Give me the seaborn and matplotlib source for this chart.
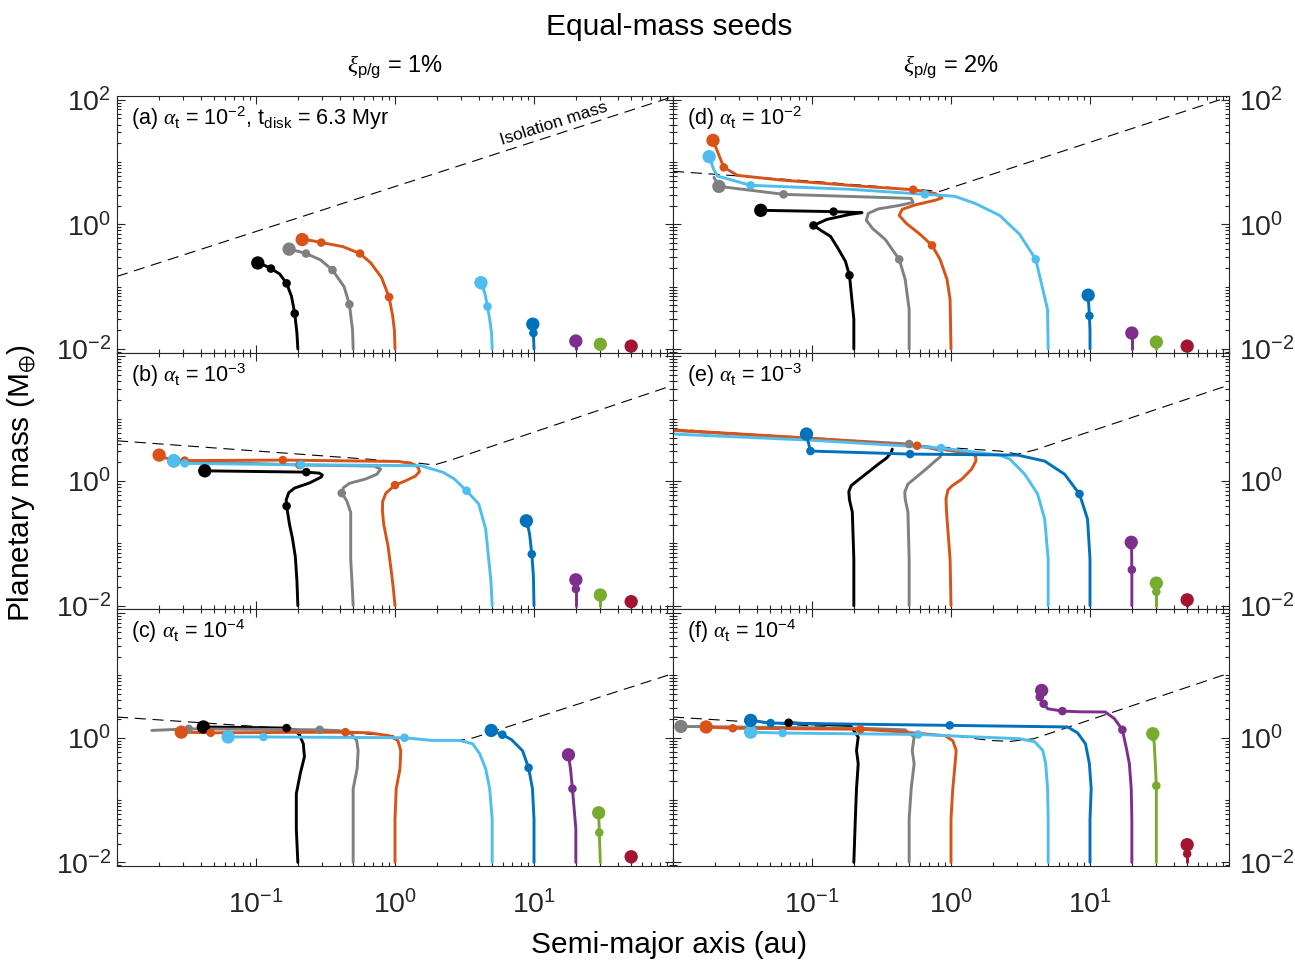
import matplotlib
matplotlib.use("Agg")
import numpy as np
import pandas as pd
import matplotlib.pyplot as plt
import seaborn as sns
from matplotlib.ticker import FixedLocator, FixedFormatter, LogLocator, NullFormatter

# ---------------------------------------------------------------------------
# Seeds (initial semi-major axis, au) and their colours
seeds = [0.2, 0.5, 1, 5, 10, 20, 30, 50]
seed_colors = ["#000000", "#808080", "#D95319", "#4DBEEE",
               "#0072BD", "#7E2F8E", "#77AC30", "#A2142F"]

# ---------------------------------------------------------------------------
# (a) xi = 1 %, alpha_t = 1e-2
a_pa = {
    0.2: [0.2, 0.197, 0.19, 0.18, 0.166, 0.148, 0.128, 0.115, 0.103],
    0.5: [0.5, 0.495, 0.47, 0.43, 0.355, 0.29, 0.229, 0.2, 0.173],
    1:   [1.0, 0.99, 0.96, 0.906, 0.8, 0.67, 0.56, 0.42, 0.295, 0.25, 0.215],
    5:   [5.0, 4.95, 4.8, 4.63, 4.45, 4.25, 4.15],
    10:  [10, 9.9, 9.8],
    20:  [20, 20],
    30:  [30, 30],
    50:  [50, 50],
}
m_pa = {
    0.2: [0.01, 0.018, 0.037, 0.07, 0.113, 0.16, 0.195, 0.22, 0.24],
    0.5: [0.01, 0.02, 0.052, 0.1, 0.185, 0.27, 0.34, 0.37, 0.40],
    1:   [0.01, 0.02, 0.035, 0.068, 0.14, 0.24, 0.34, 0.44, 0.51, 0.55, 0.57],
    5:   [0.01, 0.018, 0.03, 0.048, 0.075, 0.105, 0.116],
    10:  [0.01, 0.018, 0.025],
    20:  [0.01, 0.0134],
    30:  [0.01, 0.0119],
    50:  [0.01, 0.0111],
}
dots_pa = {0.2: ([2, 4, 6], 8), 0.5: ([2, 4, 6], 8), 1: ([3, 6, 8], 10),
           5: ([3, 5], 6), 10: ([1], 2), 20: ([], 1), 30: ([], 1), 50: ([], 1)}
iso_a_pa = [0.01, 100]
iso_m_pa = [0.146, 112]

# (b) xi = 1 %, alpha_t = 1e-3
a_pb = {
    0.2: [0.2, 0.197, 0.192, 0.183, 0.174, 0.166, 0.165, 0.172, 0.189, 0.242,
          0.295, 0.3, 0.285, 0.23, 0.0428],
    0.5: [0.5, 0.49, 0.48, 0.48, 0.45, 0.414, 0.425, 0.47, 0.616, 0.743,
          0.787, 0.707, 0.205, 0.0256],
    1:   [1.0, 0.97, 0.936, 0.89, 0.83, 0.812, 0.815, 0.86, 1.0, 1.18, 1.4,
          1.5, 1.47, 1.36, 1.07, 0.156, 0.0307, 0.0221, 0.0201],
    5:   [5.0, 4.9, 4.72, 4.49, 4.0, 3.27, 2.67, 2.22, 1.54, 0.211, 0.0307,
          0.0256],
    10:  [10, 9.9, 9.64, 9.3, 8.95, 8.81],
    20:  [20, 20, 20],
    30:  [30, 30],
    50:  [50, 50],
}
m_pb = {
    0.2: [0.01, 0.025, 0.06, 0.12, 0.204, 0.397, 0.5, 0.65, 0.77, 0.93,
          1.16, 1.25, 1.34, 1.39, 1.46],
    0.5: [0.01, 0.025, 0.056, 0.315, 0.48, 0.64, 0.78, 0.92, 1.08, 1.29,
          1.56, 1.74, 1.81, 2.1],
    1:   [0.01, 0.02, 0.0387, 0.0915, 0.2, 0.33, 0.47, 0.64, 0.86, 1.0, 1.2,
          1.42, 1.65, 1.87, 2.06, 2.17, 2.13, 2.34, 2.61],
    5:   [0.01, 0.025, 0.056, 0.17, 0.43, 0.7, 1.08, 1.38, 1.76, 1.83, 1.92,
          2.12],
    10:  [0.01, 0.03, 0.067, 0.14, 0.21, 0.23],
    20:  [0.01, 0.0185, 0.026],
    30:  [0.01, 0.0148],
    50:  [0.01, 0.0116],
}
dots_pb = {0.2: ([5, 13], 14), 0.5: ([5, 12], 13), 1: ([8, 15, 16], 18),
           5: ([5, 9, 10], 11), 10: ([2, 4], 5), 20: ([1], 2), 30: ([], 1),
           50: ([], 1)}
iso_a_pb = [0.01, 1.37, 1.91, 2.52, 98]
iso_m_pb = [4.43, 1.98, 1.81, 2.17, 33.9]

# (c) xi = 1 %, alpha_t = 1e-4
a_pc = {
    0.2: [0.2, 0.195, 0.195, 0.208, 0.223, 0.219, 0.205, 0.189, 0.166, 0.0418],
    0.5: [0.5, 0.5, 0.5, 0.534, 0.543, 0.53, 0.484, 0.397, 0.287, 0.0328,
          0.0178],
    1:   [1.0, 1.0, 1.02, 1.086, 1.1, 1.05, 0.906, 0.65, 0.44, 0.0472, 0.029],
    5:   [5.0, 5.0, 4.8, 4.49, 4.07, 3.62, 2.92, 1.84, 1.17, 0.113, 0.063],
    10:  [10, 10, 9.75, 9.14, 8.27, 6.9, 5.92, 4.92],
    20:  [20, 20, 18.9, 18.3, 17.7],
    30:  [30, 29.5, 29.2],
    50:  [50, 50],
}
m_pc = {
    0.2: [0.01, 0.0346, 0.126, 0.264, 0.495, 0.8, 1.12, 1.34, 1.43, 1.49],
    0.5: [0.01, 0.05, 0.152, 0.318, 0.62, 0.9, 1.16, 1.3, 1.34, 1.39, 1.31],
    1:   [0.01, 0.05, 0.152, 0.318, 0.62, 0.9, 1.08, 1.2, 1.23, 1.2, 1.23],
    5:   [0.01, 0.05, 0.152, 0.318, 0.553, 0.8, 0.906, 0.906, 1.0, 1.03, 1.03],
    10:  [0.01, 0.05, 0.152, 0.33, 0.62, 0.93, 1.12, 1.31],
    20:  [0.01, 0.0346, 0.152, 0.318, 0.533],
    30:  [0.01, 0.03, 0.0625],
    50:  [0.01, 0.0123],
}
dots_pc = {0.2: ([8], 9), 0.5: ([8, 9], None), 1: ([8, 9], 10),
           5: ([8, 9], 10), 10: ([3, 6], 7), 20: ([2], 4), 30: ([1], 2),
           50: ([], 1)}
iso_a_pc = [0.01, 0.89, 1.84, 2.92, 3.68, 98.4]
iso_m_pc = [2.15, 1.09, 0.906, 0.906, 1.0, 10.6]

# (d) xi = 2 %, alpha_t = 1e-2
a_pd = {
    0.2: [0.2, 0.2, 0.186, 0.174, 0.155, 0.136, 0.119, 0.1025, 0.128, 0.189,
          0.229, 0.143, 0.0428],
    0.5: [0.5, 0.5, 0.468, 0.424, 0.336, 0.272, 0.246, 0.254, 0.3, 0.43,
          0.534, 0.517, 0.0625, 0.0214, 0.0197],
    1:   [1.0, 0.985, 0.936, 0.834, 0.73, 0.6, 0.476, 0.424, 0.445, 0.552,
          0.767, 0.862, 0.767, 0.534, 0.223, 0.0594, 0.0291, 0.0232, 0.0194],
    5:   [5.0, 4.95, 4.07, 3.12, 2.24, 1.49, 1.07, 0.876, 0.65, 0.189, 0.0362,
          0.0209, 0.0196, 0.0182],
    10:  [10, 10, 9.9, 9.75, 9.7],
    20:  [20, 20, 20],
    30:  [30, 30],
    50:  [50, 50],
}
m_pd = {
    0.2: [0.01, 0.03, 0.152, 0.255, 0.4, 0.64, 0.77, 0.96, 1.2, 1.45, 1.54,
          1.6, 1.68],
    0.5: [0.01, 0.043, 0.131, 0.274, 0.574, 0.863, 1.16, 1.5, 1.77, 2.02,
          2.25, 2.61, 3.03, 4.07, 5.68],
    1:   [0.01, 0.0625, 0.131, 0.274, 0.46, 0.69, 1.04, 1.39, 1.74, 2.05,
          2.43, 2.66, 3.14, 3.6, 4.1, 5.15, 6.11, 8.22, 22.3],
    5:   [0.01, 0.043, 0.274, 0.69, 1.39, 2.17, 2.81, 2.92, 3.03, 3.65, 4.23,
          5.96, 7.64, 12.2],
    10:  [0.01, 0.02, 0.034, 0.06, 0.073],
    20:  [0.01, 0.013, 0.018],
    30:  [0.01, 0.0129],
    50:  [0.01, 0.0111],
}
dots_pd = {0.2: ([2, 7, 11], 12), 0.5: ([3, 12], 13), 1: ([4, 13, 17], 18),
           5: ([2, 8, 10], 13), 10: ([2], 4), 20: ([], 2), 30: ([], 1),
           50: ([], 1)}
iso_a_pd = [0.01, 0.0827, 0.834, 97]
iso_m_pd = [7.1, 5.08, 3.39, 109]

# (e) xi = 2 %, alpha_t = 1e-3
a_pe = {
    0.2: [0.2, 0.2, 0.195, 0.186, 0.184, 0.192, 0.215, 0.26, 0.3, 0.345,
          0.372, 0.378],
    0.5: [0.5, 0.5, 0.49, 0.468, 0.465, 0.49, 0.543, 0.662, 0.77, 0.834,
          0.862, 0.85, 0.5, 0.0944, 0.01],
    1:   [1.0, 0.985, 0.93, 0.92, 0.95, 1.02, 1.2, 1.41, 1.51, 1.51, 1.46,
          0.57, 0.0944, 0.01],
    5:   [5.0, 5.0, 4.72, 4.2, 3.39, 2.65, 2.24, 0.848, 0.094, 0.01],
    10:  [10, 10, 9.6, 8.4, 6.56, 4.72, 3.02, 0.508, 0.0975, 0.0929, 0.0913],
    20:  [20, 20, 20, 19.9, 19.8],
    30:  [30, 30, 30],
    50:  [50, 50],
}
m_pe = {
    0.2: [0.01, 0.056, 0.318, 0.5, 0.68, 0.85, 1.04, 1.45, 1.87, 2.35, 2.9,
          3.26],
    0.5: [0.01, 0.056, 0.318, 0.514, 0.666, 0.895, 1.08, 1.56, 2.1, 2.43,
          2.8, 3.1, 3.93, 4.85, 6.5],
    1:   [0.01, 0.056, 0.3, 0.514, 0.72, 0.84, 1.08, 1.56, 2.1, 2.4, 2.71,
          3.69, 4.9, 6.59],
    5:   [0.01, 0.056, 0.245, 0.62, 1.29, 2.25, 2.61, 3.39, 4.55, 5.68],
    10:  [0.01, 0.056, 0.245, 0.62, 1.29, 2.09, 2.61, 2.71, 3.03, 4.72, 5.68],
    20:  [0.01, 0.02, 0.0377, 0.092, 0.104],
    30:  [0.01, 0.0167, 0.023],
    50:  [0.01, 0.0124],
}
dots_pe = {0.2: ([], None), 0.5: ([12], None), 1: ([11], None),
           5: ([7], None), 10: ([3, 7, 8], 10), 20: ([2, 3], 4),
           30: ([1], 2), 50: ([], 1)}
iso_a_pe = [0.01, 2.24, 3.02, 4.0, 97]
iso_m_pe = [6.84, 3.03, 2.71, 3.15, 33.9]

# (f) xi = 2 %, alpha_t = 1e-4
a_pf = {
    0.2: [0.2, 0.205, 0.209, 0.215, 0.209, 0.215, 0.189, 0.0679],
    0.5: [0.5, 0.5, 0.517, 0.543, 0.526, 0.543, 0.468, 0.223, 0.0114],
    1:   [1.0, 1.0, 1.03, 1.07, 1.09, 1.03, 0.906, 0.43, 0.223, 0.0269, 0.0173],
    5:   [5.0, 5.0, 4.95, 4.8, 4.57, 4.0, 3.12, 1.37, 0.58, 0.0615, 0.0362],
    10:  [10, 10, 10.2, 9.9, 9.28, 8.13, 6.9, 0.98, 0.0504, 0.0362],
    20:  [20, 20, 19.8, 19.2, 18.3, 17.1, 15.0, 12.9, 8.4, 6.33, 4.96, 4.64,
          4.35, 4.49],
    30:  [30, 30, 30, 29.5, 29, 28.5, 28.3],
    50:  [50, 50, 50],
}
m_pf = {
    0.2: [0.01, 0.05, 0.152, 0.383, 0.625, 1.03, 1.56, 1.74],
    0.5: [0.01, 0.05, 0.152, 0.383, 0.625, 1.03, 1.34, 1.42, 1.52],
    1:   [0.01, 0.05, 0.152, 0.383, 0.625, 0.895, 1.08, 1.25, 1.37, 1.42, 1.49],
    5:   [0.01, 0.05, 0.152, 0.383, 0.625, 0.863, 0.964, 1.04, 1.13, 1.19, 1.23],
    10:  [0.01, 0.05, 0.152, 0.383, 0.8, 1.2, 1.49, 1.58, 1.72, 1.9],
    20:  [0.01, 0.05, 0.152, 0.383, 0.666, 1.34, 2.02, 2.59, 2.61, 2.68, 2.92,
          3.51, 4.5, 5.74],
    30:  [0.01, 0.05, 0.17, 0.383, 0.8, 1.03, 1.16],
    50:  [0.01, 0.0137, 0.0192],
}
dots_pf = {0.2: ([7], None), 0.5: ([], 8), 1: ([8, 9], 10), 5: ([8, 9], 10),
           10: ([7, 8], 9), 20: ([5, 9, 11, 12], 13), 30: ([2, 5], 6),
           50: ([1], 2)}
iso_a_pf = [0.01, 0.215, 0.98, 1.9, 2.65, 3.94, 96.8]
iso_m_pf = [2.15, 1.39, 1.09, 0.906, 0.873, 0.964, 10.6]

panel_labels = [
    r"(a) $\mathit{\alpha}_\mathrm{t}$ = 10$^{-2}$, t$_\mathrm{disk}$ = 6.3 Myr",
    r"(b) $\mathit{\alpha}_\mathrm{t}$ = 10$^{-3}$",
    r"(c) $\mathit{\alpha}_\mathrm{t}$ = 10$^{-4}$",
    r"(d) $\mathit{\alpha}_\mathrm{t}$ = 10$^{-2}$",
    r"(e) $\mathit{\alpha}_\mathrm{t}$ = 10$^{-3}$",
    r"(f) $\mathit{\alpha}_\mathrm{t}$ = 10$^{-4}$",
]
column_titles = [r"$\mathit{\xi}_\mathrm{p/g}$ = 1%", r"$\mathit{\xi}_\mathrm{p/g}$ = 2%"]
x_ticks = [1e-2, 1e-1, 1e0, 1e1, 1e2]
x_ticklabels = ["", r"$10^{-1}$", r"$10^{0}$", r"$10^{1}$", ""]
y_ticks = [1e-2, 1e0, 1e2]
y_ticklabels_top = [r"$10^{-2}$", r"$10^{0}$", r"$10^{2}$"]
y_ticklabels_low = [r"$10^{-2}$", r"$10^{0}$", ""]

# ---------------------------------------------------------------------------
sns.set_theme(style="ticks")
plt.rcParams.update({
    "font.family": ["Liberation Sans", "DejaVu Sans"],
    "mathtext.fontset": "custom",
    "mathtext.rm": "Liberation Sans",
    "mathtext.it": "Liberation Serif:italic",
    "mathtext.bf": "Liberation Sans:bold",
    "mathtext.default": "regular",
    "axes.edgecolor": "#262626",
    "axes.linewidth": 0.8,
    "xtick.color": "#262626",
    "ytick.color": "#262626",
    "text.color": "black",
    "axes.facecolor": "white",
    "figure.facecolor": "white",
    "lines.solid_joinstyle": "round",
})

W, H = 1295, 960
fig = plt.figure(figsize=(W / 100, H / 100), dpi=100)

col_x = [117 / W, 673 / W]
col_w = 556 / W
row_h = 256.7 / H
row_b = [1 - 96 / H - row_h, 1 - 96 / H - 2 * row_h, 1 - 96 / H - 3 * row_h]

panels = [
    (a_pa, m_pa, dots_pa, iso_a_pa, iso_m_pa),
    (a_pb, m_pb, dots_pb, iso_a_pb, iso_m_pb),
    (a_pc, m_pc, dots_pc, iso_a_pc, iso_m_pc),
    (a_pd, m_pd, dots_pd, iso_a_pd, iso_m_pd),
    (a_pe, m_pe, dots_pe, iso_a_pe, iso_m_pe),
    (a_pf, m_pf, dots_pf, iso_a_pf, iso_m_pf),
]

seed_names = [str(s) for s in seeds]
palette = dict(zip(seed_names, seed_colors))
ylo, yhi = 10 ** -2.06, 10 ** 2.06

for p, (a_tr, m_tr, dots, iso_a, iso_m) in enumerate(panels):
    col, row = divmod(p, 3)
    ax = fig.add_axes([col_x[col], row_b[row], col_w, row_h])

    # isolation mass
    iso_df = pd.DataFrame({"a": iso_a, "m": iso_m})
    sns.lineplot(data=iso_df, x="a", y="m", ax=ax, color="black", lw=0.8,
                 linestyle=(0, (10, 6)), sort=False, estimator=None,
                 legend=False, zorder=1)

    # growth tracks
    rows, pts = [], []
    for s in seeds:
        for j, (a, m) in enumerate(zip(a_tr[s], m_tr[s])):
            rows.append({"seed": str(s), "step": j, "a": a, "m": m})
        mids, end = dots[s]
        for j in mids:
            pts.append({"seed": str(s), "a": a_tr[s][j], "m": m_tr[s][j], "kind": "mid"})
        if end is not None:
            pts.append({"seed": str(s), "a": a_tr[s][end], "m": m_tr[s][end], "kind": "end"})
    track_df = pd.DataFrame(rows)
    dot_df = pd.DataFrame(pts)

    sns.lineplot(data=track_df, x="a", y="m", hue="seed", hue_order=seed_names,
                 palette=palette, units="seed", estimator=None, sort=False,
                 lw=2.1, legend=False, ax=ax, zorder=2)
    sns.scatterplot(data=dot_df, x="a", y="m", hue="seed", hue_order=seed_names,
                    palette=palette, size="kind", sizes={"mid": 38, "end": 92},
                    size_order=["end", "mid"], linewidth=0, legend=False,
                    ax=ax, zorder=3)

    ax.set_xscale("log")
    ax.set_yscale("log")
    ax.set_xlim(0.01, 100)
    ax.set_ylim(ylo, yhi)
    ax.set_xlabel("")
    ax.set_ylabel("")

    ax.xaxis.set_major_locator(FixedLocator(x_ticks))
    ax.xaxis.set_minor_locator(LogLocator(base=10, subs=np.arange(2, 10), numticks=20))
    ax.yaxis.set_major_locator(FixedLocator(y_ticks))
    ax.yaxis.set_minor_locator(LogLocator(base=10, subs=np.arange(1, 10), numticks=20))
    if row == 2:
        ax.xaxis.set_major_formatter(FixedFormatter(x_ticklabels))
    else:
        ax.xaxis.set_major_formatter(NullFormatter())
    ax.xaxis.set_minor_formatter(NullFormatter())
    ax.yaxis.set_major_formatter(FixedFormatter(y_ticklabels_top if row == 0 else y_ticklabels_low))
    ax.yaxis.set_minor_formatter(NullFormatter())

    ax.tick_params(which="both", direction="in", top=True, bottom=True,
                   left=True, right=True, width=0.8)
    ax.tick_params(which="major", length=5.5)
    ax.tick_params(which="minor", length=3)
    ax.tick_params(axis="x", which="major", labelsize=20.5, pad=17)
    ax.tick_params(axis="y", which="major", labelsize=20.5)
    if col == 0:
        ax.tick_params(axis="y", labelleft=True, labelright=False, pad=4)
    else:
        ax.tick_params(axis="y", labelleft=False, labelright=True, pad=7)
    for sp in ax.spines.values():
        sp.set_visible(True)
        sp.set_color("#262626")
        sp.set_linewidth(0.8)

    ax.text(0.025, 0.914, panel_labels[p], transform=ax.transAxes,
            fontsize=15.5, ha="left", va="center")

    if p == 0:
        ax.text(13.8, 41.8, "Isolation mass", fontsize=12.5, rotation=17.7,
                rotation_mode="anchor", ha="center", va="center")

fig.text(669 / W, 1 - 27 / H, "Equal-mass seeds", fontsize=21.5,
         ha="center", va="center")
fig.text((117 + 673) / 2 / W, 1 - 67 / H, column_titles[0], fontsize=17,
         ha="center", va="center")
fig.text((673 + 1229) / 2 / W, 1 - 67 / H, column_titles[1], fontsize=17,
         ha="center", va="center")
fig.text(669 / W, 1 - 945 / H, "Semi-major axis (au)", fontsize=21.5,
         ha="center", va="center")
fig.text(22 / W, 1 - 483 / H, r"Planetary mass (M$_{\oplus}$)", fontsize=21.5,
         ha="center", va="center", rotation=90)

fig.savefig("out.png", dpi=100)
